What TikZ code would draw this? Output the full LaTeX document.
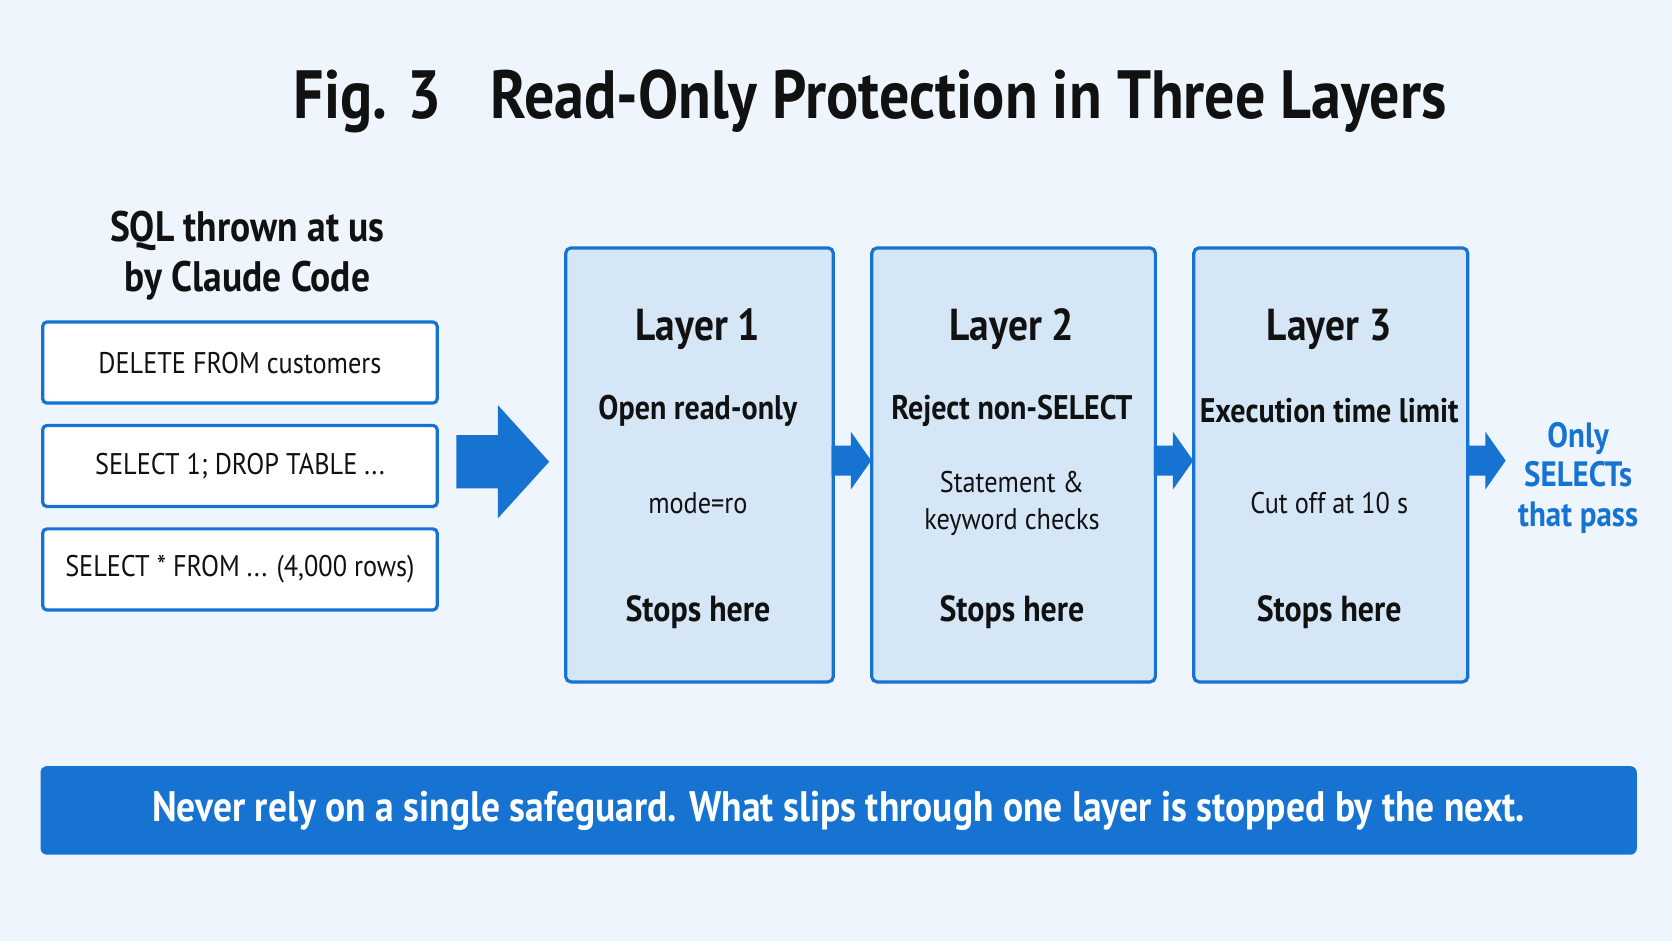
\documentclass[tikz,border=0pt]{standalone}
\usepackage{fontspec}
\setmainfont{PT Sans}[FakeStretch=0.88]
\definecolor{bg}{HTML}{EEF5FC}
\definecolor{bl}{HTML}{1673D2}
\definecolor{lf}{HTML}{D5E7F7}
\definecolor{tx}{HTML}{111111}
\begin{document}
\begin{tikzpicture}[x=1pt,y=-1pt,
 sq/.style={draw=bl,line width=3pt,fill=white,rounded corners=4pt,minimum width=370pt,minimum height=76pt,font=\fontsize{28}{30}\selectfont,text=tx},
 lay/.style={draw=bl,line width=3pt,fill=lf,rounded corners=5pt,anchor=north west},
 lt/.style={font=\bfseries\fontsize{42}{46}\selectfont,text=tx},
 l2/.style={font=\bfseries\fontsize{32}{36}\selectfont,text=tx},
 l3/.style={font=\fontsize{28}{34}\selectfont,text=tx,align=center},
 l4/.style={font=\bfseries\fontsize{34}{36}\selectfont,text=tx}]
\fill[bg] (0,0) rectangle (1568,882);
\useasboundingbox (0,0) rectangle (1568,882);
\node[font=\bfseries\fontsize{64}{70}\selectfont,text=tx] (title) at (816,95) {Fig. 3\enspace\ Read-Only Protection in Three Layers};
\node[font=\bfseries\fontsize{40}{47}\selectfont,text=tx,align=center] (src) at (232,240) {SQL thrown at us\\by Claude Code};
\node[sq] (s1) at (225,340) {DELETE FROM customers};
\node[sq] (s2) at (225,437) {SELECT 1; DROP TABLE ...};
\node[sq] (s3) at (225,534) {SELECT * FROM ... (4,000 rows)};
\fill[bl] (428,408) -- (467,408) -- (467,380) -- (515,433) -- (467,486) -- (467,458) -- (428,458) -- cycle;
\node[lay,minimum width=251pt,minimum height=407pt] (L1) at (529,231) {};
\node[lay,minimum width=266pt,minimum height=407pt] (L2) at (816,231) {};
\node[lay,minimum width=257pt,minimum height=407pt] (L3) at (1118,231) {};
\foreach \n/\c/\a/\b/\d in {L1/654.5/Open read-only/mode=ro/1,L2/949/Reject non-SELECT/{Statement \&\\keyword checks}/2,L3/1246.5/Execution time limit/Cut off at 10 s/3}{
 \node[lt] (\n t) at (\c,309) {Layer \d};
 \node[l2] (\n a) at (\c,385) {\a};
 \node[l3] (\n b) at (\c,472) {\b};
 \node[l4] (\n s) at (\c,574) {Stops here};
}
\foreach \x in {780,1082,1375}{
 \fill[bl] (\x,418) -- (\x+18,418) -- (\x+18,405) -- (\x+37,432) -- (\x+18,459) -- (\x+18,446) -- (\x,446) -- cycle;
}
\node[font=\bfseries\fontsize{33}{37}\selectfont,text=bl,align=center] (out) at (1480,448) {Only\\SELECTs\\that pass};
\node[fill=bl,rounded corners=6pt,minimum width=1497pt,minimum height=83pt,text=white,font=\bfseries\fontsize{40}{42}\selectfont] (ban) at (786.5,760) {Never rely on a single safeguard. What slips through one layer is stopped by the next.};
\end{tikzpicture}
\end{document}
